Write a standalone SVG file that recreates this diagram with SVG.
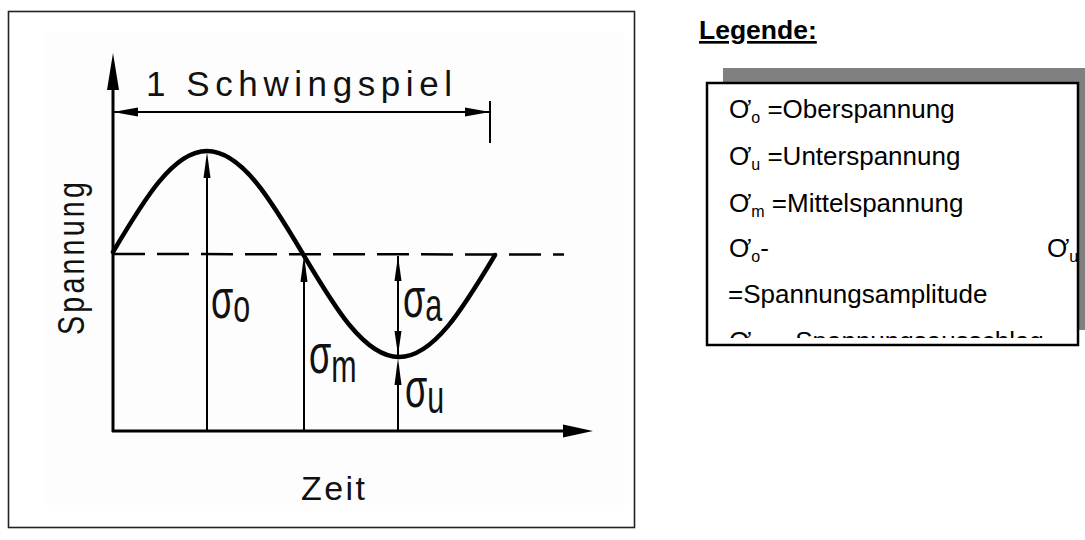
<svg xmlns="http://www.w3.org/2000/svg" width="1085" height="540" viewBox="0 0 1085 540">
<style>
.lbl{font-family:"Liberation Sans",Arial,sans-serif;fill:#111}
.thick{fill:none;stroke:#000;stroke-width:4.5;stroke-linecap:round;stroke-linejoin:round}
.axis{fill:none;stroke:#000;stroke-width:3}
.thin{fill:none;stroke:#000;stroke-width:2}
.dash{fill:none;stroke:#000;stroke-width:2.5;stroke-dasharray:32 12}
.ah{fill:#000;stroke:none}
.leg{font-family:"Liberation Sans",Arial,sans-serif;font-size:26px;fill:#000}
.sub{font-size:16px}
.sig{font-family:"Liberation Sans",Arial,sans-serif;font-size:38px;fill:#111}
.sgs{font-size:32px}
</style>
<defs>
<clipPath id="boxclip"><rect x="708" y="84" width="369" height="254"/></clipPath>
</defs>
<rect width="1085" height="540" fill="#fff"/>

<g id="diagram-frame">
<rect x="45" y="33" width="580" height="472" fill="#fdfdfd"/>
<rect x="8.5" y="11.5" width="626" height="516" fill="none" stroke="#222" stroke-width="1.6"/>
</g>

<g id="connectors">
<line class="axis" x1="113" y1="432" x2="113" y2="80"/>
<polygon class="ah" points="113,53 107,90 119,90"/>
<line class="axis" x1="112" y1="431" x2="570" y2="431"/>
<polygon class="ah" points="593,431 563,424.5 563,437.5"/>
<line class="thin" x1="113" y1="112" x2="490" y2="112"/>
<polygon class="ah" points="113,112 138,107.5 138,116.5"/>
<polygon class="ah" points="490,112 465,107.5 465,116.5"/>
<line class="thin" x1="490" y1="101" x2="490" y2="143"/>
<line class="dash" x1="113" y1="254" x2="564" y2="254.5"/>
<path class="thick" d="M113,252 C143.6,200.3 173,151 207,151 C241.8,151 271.7,201.2 303,254 C334.3,306.8 364.2,357 399,357 C433.8,357 463.7,307.3 495,255"/>
<line class="thin" x1="207" y1="431" x2="207" y2="170"/>
<polygon class="ah" points="207,152 203.5,178 210.5,178"/>
<line class="thin" x1="304" y1="431" x2="304" y2="275"/>
<polygon class="ah" points="304,255 300.5,282 307.5,282"/>
<line class="thin" x1="398" y1="256" x2="398" y2="356"/>
<polygon class="ah" points="398,256 394.5,281 401.5,281"/>
<polygon class="ah" points="398,355 394.5,331 401.5,331"/>
<line class="thin" x1="398" y1="431" x2="398" y2="380"/>
<polygon class="ah" points="398,358 394.5,385 401.5,385"/>
</g>

<g id="title-schwingspiel">
<text class="lbl" x="146" y="96" font-size="35" textLength="306">1 Schwingspiel</text>
</g>
<g id="label-spannung">
<text class="lbl" font-size="36" letter-spacing="4" textLength="156" lengthAdjust="spacingAndGlyphs" transform="translate(84,335) rotate(-90)">Spannung</text>
</g>
<g id="label-zeit">
<text class="lbl" x="301" y="500" font-size="34" textLength="64">Zeit</text>
</g>

<g id="sigma-o">
<text class="sig" transform="translate(211,318) scale(0.95,1.45)">σ<tspan class="sgs" dy="3">o</tspan></text>
</g>
<g id="sigma-m">
<text class="sig" transform="translate(309,373) scale(0.95,1.45)">σ<tspan class="sgs" dy="6">m</tspan></text>
</g>
<g id="sigma-a">
<text class="sig" transform="translate(403,317) scale(0.95,1.45)">σ<tspan class="sgs" dy="3">a</tspan></text>
</g>
<g id="sigma-u">
<text class="sig" transform="translate(405,407) scale(0.95,1.45)">σ<tspan class="sgs" dy="4">u</tspan></text>
</g>

<g id="legend-title">
<text x="699" y="39" font-family="Liberation Sans, Arial, sans-serif" font-size="26.5" font-weight="bold" text-decoration="underline">Legende:</text>
</g>

<g id="legend-box">
<rect x="723" y="68" width="370" height="262" fill="#808080"/>
<rect x="707" y="83" width="371" height="262" fill="#fff"/>
<g clip-path="url(#boxclip)">
<text class="leg" x="729" y="118">Ơ<tspan class="sub" dy="5">o</tspan><tspan dy="-5"> =Oberspannung</tspan></text>
<text class="leg" x="729" y="165">Ơ<tspan class="sub" dy="5">u</tspan><tspan dy="-5">  =Unterspannung</tspan></text>
<text class="leg" x="729" y="212">Ơ<tspan class="sub" dy="5">m</tspan><tspan dy="-5">  =Mittelspannung</tspan></text>
<text class="leg" x="729" y="257">Ơ<tspan class="sub" dy="5">o</tspan><tspan dy="-5">-</tspan></text>
<text class="leg" x="1047" y="257">Ơ<tspan class="sub" dy="5">u</tspan></text>
<text class="leg" x="728" y="303">=Spannungsamplitude</text>
<text class="leg" x="729" y="350">Ơ<tspan class="sub" dy="5">a</tspan><tspan x="780" dy="-5">=Spannungsausschlag</tspan></text>
</g>
<rect x="707" y="83" width="371" height="262" fill="none" stroke="#000" stroke-width="2.5"/>
</g>
</svg>
